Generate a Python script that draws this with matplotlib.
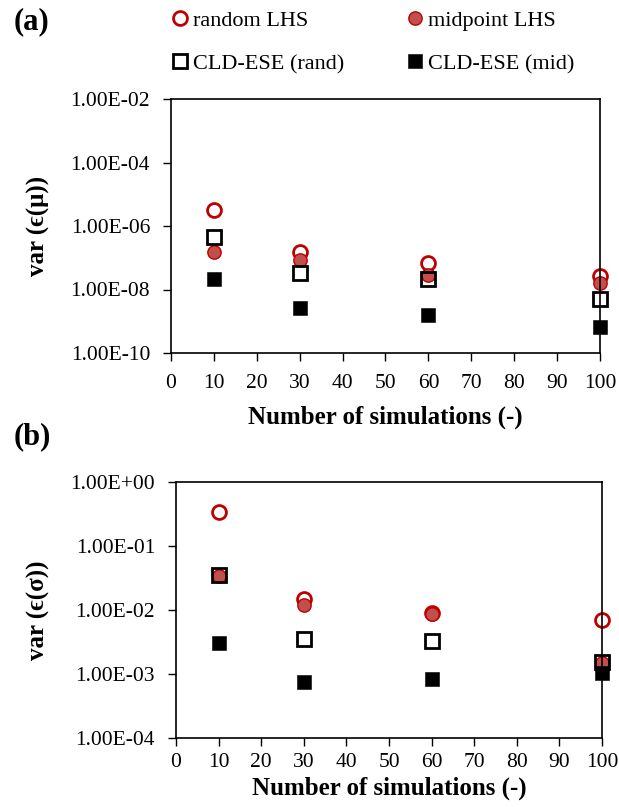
import matplotlib
matplotlib.use("Agg")
import matplotlib.pyplot as plt
from matplotlib.ticker import FixedLocator, FuncFormatter, NullLocator
from matplotlib.lines import Line2D

plt.rcParams['font.family'] = ['Liberation Serif', 'DejaVu Serif']

# Number of simulations
n_sims = [10, 30, 60, 100]

# (a) variance of the error in the mean
mu_random_lhs = [3.2e-6, 1.55e-7, 6.6e-8, 2.7e-8]
mu_midpoint_lhs = [1.5e-7, 8.5e-8, 2.9e-8, 1.65e-8]
mu_cld_rand = [4.4e-7, 3.2e-8, 2.2e-8, 4.9e-9]
mu_cld_mid = [2.1e-8, 2.6e-9, 1.55e-9, 6.8e-10]

# (b) variance of the error in the standard deviation
sd_random_lhs = [0.336, 0.0147, 0.0089, 0.0070]
sd_midpoint_lhs = [0.034, 0.0118, 0.0087, 0.00147]
sd_cld_rand = [0.0348, 0.00352, 0.0033, 0.00156]
sd_cld_mid = [0.0030, 0.00075, 0.00085, 0.00102]

series_labels = ["random LHS", "midpoint LHS", "CLD-ESE (rand)", "CLD-ESE (mid)"]
x_ticks = list(range(0, 101, 10))
ticks_a = [1e-10, 1e-8, 1e-6, 1e-4, 1e-2]
ticks_b = [1e-4, 1e-3, 1e-2, 1e-1, 1e0]

styles = [
    dict(marker='o', ms=10, mfc='none', mec='#C00000', mew=2.0),
    dict(marker='o', ms=9.6, mfc='#C0504D', mec='#C00000', mew=1.0),
    dict(marker='s', ms=10, mfc='none', mec='black', mew=2.0),
    dict(marker='s', ms=10.6, mfc='black', mec='black', mew=0.4),
]

fig = plt.figure(figsize=(6.19, 8.07), dpi=100)
W, H = 619, 807


def px_axes(left, top, right, bottom):
    return fig.add_axes([left / W, 1 - bottom / H, (right - left) / W, (bottom - top) / H])


def sci(v, pos):
    return f"{v:.2E}"


def style_axes(ax, yticks, ylabel, label_y, xpad, xlabelpad):
    ax.set_yscale('log')
    ax.set_xlim(0, 100)
    ax.set_ylim(yticks[0], yticks[-1])
    ax.xaxis.set_major_locator(FixedLocator(x_ticks))
    ax.yaxis.set_major_locator(FixedLocator(yticks))
    ax.yaxis.set_minor_locator(NullLocator())
    ax.yaxis.set_major_formatter(FuncFormatter(sci))
    ax.tick_params(axis='both', direction='out', length=6, width=1.0,
                   labelsize=15.5, colors='black')
    ax.tick_params(axis='x', pad=xpad)
    ax.tick_params(axis='y', pad=9)
    for s in ax.spines.values():
        s.set_linewidth(1.2)
        s.set_color('black')
    ax.set_xlabel("Number of simulations (-)", fontsize=18, fontweight='bold',
                  labelpad=xlabelpad)
    fig.text(38 / W, 1 - label_y / H, ylabel, rotation=90, fontsize=18,
             fontweight='bold', ha='center', va='center')


ax_a = px_axes(171, 99, 600, 353)
for vals, st in zip([mu_random_lhs, mu_midpoint_lhs, mu_cld_rand, mu_cld_mid], styles):
    ax_a.plot(n_sims, vals, linestyle='none', clip_on=False, **st)
style_axes(ax_a, ticks_a, "var (\u03f5(\u03bc))", 226, xpad=9, xlabelpad=9)

ax_b = px_axes(176, 482, 602, 738)
for vals, st in zip([sd_random_lhs, sd_midpoint_lhs, sd_cld_rand, sd_cld_mid], styles):
    ax_b.plot(n_sims, vals, linestyle='none', clip_on=False, **st)
style_axes(ax_b, ticks_b, "var (\u03f5(\u03c3))", 610, xpad=5, xlabelpad=3)

fig.text(14 / W, 1 - 22 / H, "(a)", fontsize=22, fontweight='bold', va='center')
fig.text(14 / W, 1 - 437 / H, "(b)", fontsize=22, fontweight='bold', va='center')

handles = [Line2D([], [], linestyle='none', **st) for st in styles]
order = [0, 2, 1, 3]
fig.legend([handles[i] for i in order], [series_labels[i] for i in order],
           ncol=2, loc='upper left', bbox_to_anchor=(170 / W, 1 - 10 / H),
           frameon=False, fontsize=16, handlelength=0.9, handletextpad=0.15,
           columnspacing=2.7, labelspacing=1.03, borderpad=0, borderaxespad=0)

fig.savefig("out.png", dpi=100)
